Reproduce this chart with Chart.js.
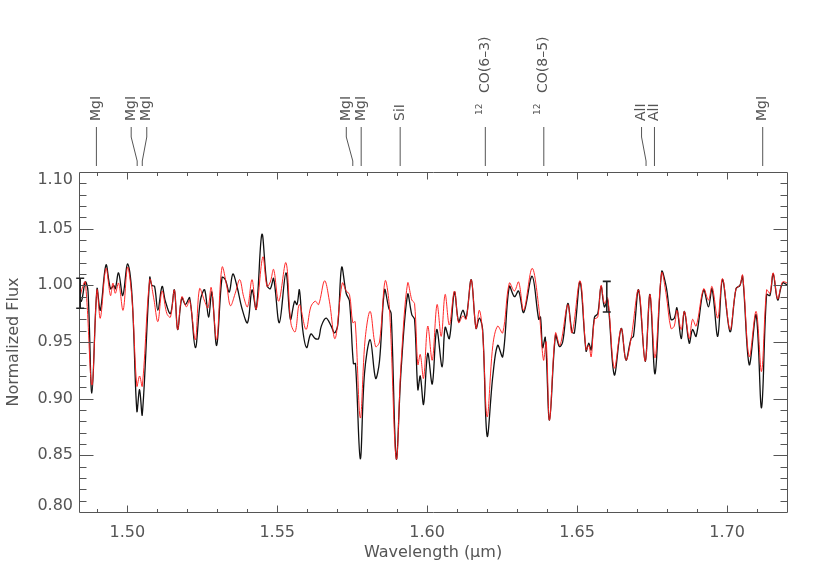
<!DOCTYPE html>
<html>
<head>
<meta charset="utf-8">
<script src="https://cdn.jsdelivr.net/npm/chart.js@4"></script>
<style>
  html, body { margin: 0; padding: 0; background: #fff; }
  #c { display: block; }
</style>
</head>
<body>
<canvas id="c" width="831" height="583"></canvas>
<script>
// ---------------- data ----------------
const xTicks = [1.50, 1.55, 1.60, 1.65, 1.70];
const yTicks = [0.80, 0.85, 0.90, 0.95, 1.00, 1.05, 1.10];

const blackWave = [1.4838,1.4847,1.4860,1.4869,1.4882,1.4899,1.4910,1.4929,1.4944,1.4955,
1.4960,1.4971,1.4985,1.5001,1.5016,1.5032,1.5041,1.5050,1.5075,1.5082,
1.5091,1.5102,1.5116,1.5127,1.5144,1.5157,1.5168,1.5182,1.5194,1.5208,
1.5227,1.5244,1.5258,1.5271,1.5282,1.5298,1.5316,1.5327,1.5340,1.5352,
1.5366,1.5382,1.5401,1.5416,1.5430,1.5449,1.5466,1.5477,1.5488,1.5507,
1.5529,1.5544,1.5558,1.5566,1.5574,1.5585,1.5598,1.5612,1.5627,1.5638,
1.5647,1.5663,1.5680,1.5691,1.5702,1.5715,1.5730,1.5741,1.5754,1.5761,
1.5777,1.5791,1.5810,1.5828,1.5841,1.5858,1.5872,1.5880,1.5897,1.5913,
1.5935,1.5949,1.5958,1.5969,1.5977,1.5988,1.6002,1.6017,1.6032,1.6050,
1.6060,1.6074,1.6091,1.6105,1.6119,1.6130,1.6147,1.6163,1.6174,1.6185,
1.6200,1.6219,1.6235,1.6252,1.6274,1.6291,1.6305,1.6322,1.6350,1.6372,
1.6378,1.6385,1.6394,1.6408,1.6428,1.6441,1.6452,1.6469,1.6483,1.6491,
1.6510,1.6530,1.6539,1.6547,1.6558,1.6569,1.6580,1.6591,1.6602,1.6624,
1.6647,1.6663,1.6680,1.6688,1.6705,1.6727,1.6743,1.6760,1.6782,1.6797,
1.6813,1.6824,1.6833,1.6847,1.6858,1.6874,1.6885,1.6897,1.6922,1.6938,
1.6950,1.6969,1.6985,1.7010,1.7030,1.7043,1.7052,1.7074,1.7097,1.7115,
1.7132,1.7143,1.7154,1.7169,1.7185,1.7202];
const blackFlux = [0.990,0.986,1.003,0.995,0.905,0.997,0.978,1.018,0.997,1.000,
0.997,1.011,0.991,1.019,0.990,0.889,0.908,0.886,1.007,1.000,
0.999,0.978,0.999,0.986,0.975,0.996,0.961,0.989,0.983,0.989,
0.945,0.987,0.996,0.972,0.994,0.947,1.007,1.005,0.994,1.010,
0.999,0.980,0.967,0.996,0.979,1.045,1.000,0.997,1.006,0.967,
1.011,0.970,0.986,0.983,0.996,0.961,0.945,0.957,0.953,0.953,
0.964,0.971,0.964,0.958,0.965,1.016,0.993,0.986,0.931,0.931,
0.847,0.922,0.952,0.918,0.933,0.996,0.980,0.975,0.847,0.925,
0.992,0.974,0.970,0.908,0.920,0.895,0.940,0.913,0.961,0.928,
0.963,0.953,0.994,0.968,0.978,0.971,1.005,0.962,0.971,0.961,
0.867,0.920,0.947,0.937,0.999,0.990,0.995,0.976,1.008,0.970,
0.972,0.945,0.954,0.881,0.956,0.946,0.950,0.984,0.959,0.958,
1.003,0.942,0.949,0.943,0.972,0.975,0.999,0.981,0.987,0.921,
0.962,0.934,0.953,0.955,0.996,0.933,0.992,0.922,1.012,0.999,
0.970,0.971,0.980,0.953,0.977,0.949,0.961,0.955,0.996,0.981,
0.997,0.955,1.005,0.959,0.997,1.000,1.008,0.930,0.974,0.892,
0.992,0.991,1.010,0.987,1.002,1.000];

const redWave = [1.4838,1.4847,1.4860,1.4882,1.4899,1.4910,1.4929,1.4944,1.4952,1.4960,
1.4971,1.4986,1.5001,1.5016,1.5032,1.5041,1.5050,1.5075,1.5088,1.5102,
1.5116,1.5132,1.5144,1.5157,1.5168,1.5182,1.5197,1.5208,1.5227,1.5241,
1.5258,1.5269,1.5280,1.5298,1.5316,1.5332,1.5344,1.5360,1.5375,1.5388,
1.5401,1.5416,1.5430,1.5452,1.5466,1.5477,1.5488,1.5505,1.5529,1.5546,
1.5560,1.5574,1.5596,1.5612,1.5627,1.5638,1.5658,1.5674,1.5693,1.5717,
1.5730,1.5741,1.5752,1.5760,1.5777,1.5793,1.5810,1.5828,1.5841,1.5860,
1.5874,1.5897,1.5913,1.5935,1.5949,1.5958,1.5969,1.5977,1.5988,1.6002,
1.6017,1.6033,1.6047,1.6060,1.6074,1.6091,1.6105,1.6119,1.6130,1.6147,
1.6163,1.6174,1.6185,1.6200,1.6219,1.6235,1.6252,1.6274,1.6291,1.6305,
1.6322,1.6350,1.6372,1.6388,1.6397,1.6408,1.6428,1.6443,1.6469,1.6483,
1.6510,1.6530,1.6539,1.6547,1.6558,1.6569,1.6580,1.6591,1.6602,1.6624,
1.6647,1.6663,1.6680,1.6705,1.6727,1.6743,1.6760,1.6782,1.6797,1.6813,
1.6824,1.6833,1.6847,1.6858,1.6874,1.6885,1.6897,1.6922,1.6938,1.6950,
1.6969,1.6985,1.7010,1.7030,1.7043,1.7052,1.7074,1.7097,1.7115,1.7132,
1.7143,1.7154,1.7169,1.7185,1.7202];
const redFlux = [0.981,0.995,1.003,0.912,0.996,0.971,1.015,0.991,1.002,0.993,
1.002,0.978,1.016,0.987,0.911,0.920,0.911,1.005,0.989,0.968,
0.995,0.975,0.972,0.996,0.961,0.990,0.981,0.987,0.952,0.997,
0.986,0.980,0.998,0.952,1.016,0.999,0.982,0.993,1.005,0.990,
0.981,1.005,0.979,1.025,0.999,1.003,1.014,0.986,1.020,0.966,
0.959,0.983,0.961,0.981,0.986,0.983,1.004,0.986,0.953,1.002,
0.995,0.992,0.967,0.968,0.883,0.952,0.977,0.946,0.950,1.004,
0.981,0.847,0.931,1.002,0.987,0.984,0.930,0.939,0.918,0.964,
0.934,0.983,0.955,0.992,0.965,0.995,0.967,0.973,0.970,1.005,
0.962,0.978,0.958,0.884,0.947,0.964,0.958,1.002,0.995,1.003,
0.978,1.015,0.981,0.934,0.950,0.881,0.958,0.947,0.983,0.958,
1.004,0.943,0.947,0.937,0.970,0.972,1.000,0.984,0.989,0.927,
0.962,0.934,0.953,0.996,0.933,0.992,0.936,1.011,0.992,0.962,
0.964,0.978,0.961,0.977,0.953,0.970,0.964,0.997,0.987,0.999,
0.971,1.006,0.961,0.997,1.000,1.009,0.937,0.977,0.924,0.996,
0.993,1.011,0.988,1.003,1.002];

// error bars
const errWave = [1.4843, 1.6599];
const errFlux = [0.993, 0.990];
const errHalf = [0.0132, 0.0135];

// line identifications
const lineNames = ['MgI','MgI','MgI','MgI','MgI','SiI','CO(6\u20133)','CO(8\u20135)','AlI','AlI','MgI'];
const lineIsotope = ['','','','','','','12','12','','',''];
const lineWaves = [1.4897, 1.5033, 1.5050, 1.5752, 1.5780, 1.5910, 1.6194, 1.6389, 1.6730, 1.6758, 1.7119];

// ---------------- drawing ----------------
const FONT = "'DejaVu Sans', 'Liberation Sans', sans-serif";
const TXT = '#555';
const labelShift = [0, -6, 4.5, -6.5, 0, 0, 0, 0, -4.5, 0, 0];
const edgeLabelNudge = { first: -6, last: 8 };   // y-axis end labels kept inside the box

const framePlugin = {
  id: 'framePlugin',
  afterDatasetsDraw(chart) {
    const {ctx, chartArea: a, scales: {x, y}} = chart;
    ctx.save();
    ctx.strokeStyle = '#555';
    ctx.lineWidth = 1;
    const L = Math.round(a.left) + 0.5, R = Math.round(a.right) + 0.5;
    const T = Math.round(a.top) + 0.5, B = Math.round(a.bottom) + 0.5;
    ctx.beginPath();
    ctx.rect(L, T, R - L, B - T);
    for (let k = 149; k <= 171; k++) {
      const px = Math.round(x.getPixelForValue(k / 100)) + 0.5;
      const len = (k % 5 === 0) ? 7 : 3.5;
      ctx.moveTo(px, B); ctx.lineTo(px, B - len);
      ctx.moveTo(px, T); ctx.lineTo(px, T + len);
    }
    for (let k = 81; k <= 109; k++) {
      const py = Math.round(y.getPixelForValue(k / 100)) + 0.5;
      const len = (k % 5 === 0) ? 14 : 7;
      ctx.moveTo(L, py); ctx.lineTo(L + len, py);
      ctx.moveTo(R, py); ctx.lineTo(R - len, py);
    }
    ctx.stroke();

    // end labels of the y axis, nudged inward as in the original
    ctx.fillStyle = TXT;
    ctx.font = '16px ' + FONT;
    ctx.textAlign = 'right';
    ctx.textBaseline = 'middle';
    const yFirst = yTicks[0], yLast = yTicks[yTicks.length - 1];
    ctx.fillText(yFirst.toFixed(2), a.left - 6, y.getPixelForValue(yFirst) + edgeLabelNudge.first);
    ctx.fillText(yLast.toFixed(2), a.left - 6, y.getPixelForValue(yLast) + edgeLabelNudge.last);

    // error bars
    ctx.strokeStyle = '#222';
    ctx.lineWidth = 1.6;
    ctx.beginPath();
    errWave.forEach((w, i) => {
      const px = x.getPixelForValue(w);
      const y1 = y.getPixelForValue(errFlux[i] + errHalf[i]);
      const y2 = y.getPixelForValue(errFlux[i] - errHalf[i]);
      ctx.moveTo(px, y1); ctx.lineTo(px, y2);
      ctx.moveTo(px - 4, y1); ctx.lineTo(px + 4, y1);
      ctx.moveTo(px - 4, y2); ctx.lineTo(px + 4, y2);
    });
    ctx.stroke();

    // line identifications
    ctx.strokeStyle = '#555';
    ctx.lineWidth = 1;
    ctx.fillStyle = TXT;
    lineWaves.forEach((w, i) => {
      const px = x.getPixelForValue(w);
      const lx = px + labelShift[i];
      ctx.beginPath();
      ctx.moveTo(lx, a.top - 45);
      ctx.lineTo(lx, a.top - 35);
      ctx.lineTo(px, a.top - 11);
      ctx.lineTo(px, a.top - 6);
      ctx.stroke();

      ctx.save();
      ctx.textAlign = 'left';
      ctx.textBaseline = 'middle';
      if (lineIsotope[i]) {
        ctx.font = '9px ' + FONT;
        ctx.translate(lx - 6, a.top - 57);
        ctx.rotate(-Math.PI / 2);
        ctx.fillText(lineIsotope[i], 0, 0);
        ctx.restore();
        ctx.save();
        ctx.textAlign = 'left';
        ctx.textBaseline = 'middle';
        ctx.font = '14px ' + FONT;
        ctx.translate(lx, a.top - 79);
      } else {
        ctx.font = '14px ' + FONT;
        ctx.translate(lx, a.top - 51);
      }
      ctx.rotate(-Math.PI / 2);
      ctx.fillText(lineNames[i], 0, 0);
      ctx.restore();
    });
    ctx.restore();
  }
};

Chart.defaults.font.family = FONT;
Chart.defaults.color = TXT;

new Chart(document.getElementById('c'), {
  type: 'line',
  data: {
    datasets: [
      {
        label: 'red',
        data: redWave.map((w, i) => ({x: w, y: redFlux[i]})),
        borderColor: 'rgba(255,30,30,0.95)',
        borderWidth: 1,
        pointRadius: 0,
        fill: false,
        tension: 0.35
      },
      {
        label: 'black',
        data: blackWave.map((w, i) => ({x: w, y: blackFlux[i]})),
        borderColor: '#111',
        borderWidth: 1.3,
        pointRadius: 0,
        fill: false,
        tension: 0.35
      }
    ]
  },
  options: {
    responsive: false,
    animation: false,
    devicePixelRatio: 1,
    layout: { padding: { left: 0, top: 172, right: 44, bottom: 0 } },
    plugins: { legend: { display: false }, tooltip: { enabled: false } },
    scales: {
      x: {
        type: 'linear',
        min: 1.4839,
        max: 1.72,
        afterFit(s) { s.height = 71; },
        afterBuildTicks(s) { s.ticks = xTicks.map(v => ({value: v})); },
        grid: { display: false, drawTicks: false },
        border: { display: false },
        ticks: {
          autoSkip: false, maxRotation: 0, padding: 11,
          font: { size: 16 }, color: TXT,
          callback: v => Number(v).toFixed(2)
        },
        title: {
          display: true, text: 'Wavelength (\u00b5m)',
          font: { size: 16 }, color: TXT,
          padding: { top: 4, bottom: 21 }
        }
      },
      y: {
        type: 'linear',
        min: 0.80,
        max: 1.10,
        afterFit(s) { s.width = 79; },
        afterBuildTicks(s) { s.ticks = yTicks.map(v => ({value: v})); },
        grid: { display: false, drawTicks: false },
        border: { display: false },
        ticks: {
          padding: 6, font: { size: 16 },
          color: c => (c.index === 0 || c.index === yTicks.length - 1) ? 'rgba(0,0,0,0)' : TXT,
          callback: v => Number(v).toFixed(2)
        },
        title: {
          display: true, text: 'Normalized Flux',
          font: { size: 16 }, color: TXT,
          padding: { top: 4, bottom: 0 }
        }
      }
    }
  },
  plugins: [framePlugin]
});
</script>
</body>
</html>
